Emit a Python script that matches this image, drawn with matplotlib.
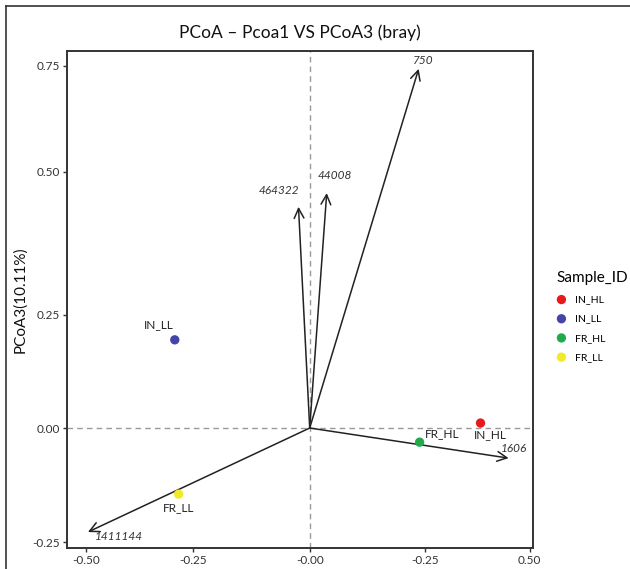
import matplotlib
matplotlib.use("Agg")
import matplotlib.pyplot as plt
import numpy as np

plt.rcParams['font.family'] = ['Lato', 'DejaVu Sans']

samples = ['IN_HL', 'IN_LL', 'FR_HL', 'FR_LL']
pc1 = [0.383, -0.292, 0.239, -0.283]
pc3 = [0.011, 0.195, -0.031, -0.145]
colors = ['#e8191c', '#4444aa', '#22aa4a', '#f0ea2a']

species = ['750', '44008', '464322', '1606', '1411144']
sp_x = [0.237, 0.037, -0.024, 0.45, -0.495]
sp_y = [0.743, 0.463, 0.439, -0.066, -0.228]

xticks = [-0.50, -0.25, 0.00, 0.25, 0.50]
xticklabels = ['-0.50', '-0.25', '-0.00', '-0.25', '0.50']
yticks = [-0.25, 0.00, 0.25, 0.50, 0.75]
yticklabels = ['-0.25', '0.00', '0.25', '0.50', '0.75']

fig = plt.figure(figsize=(6.3, 5.69), dpi=100)
ax = fig.add_axes([0.1063, 0.0369, 0.7397, 0.8735])

# piecewise-linear y scale reproducing the reference's uneven tick spacing
yk = np.array([-1.0, -0.25, 0.0, 0.25, 0.5, 0.75, 1.5])
yp = np.array([-456*0.75, 0, 114, 227, 370, 476, 476 + 424*0.75])
ax.set_yscale('function', functions=(lambda v: np.interp(v, yk, yp),
                                     lambda p: np.interp(p, yp, yk)))
xk = np.array([-1.5, -0.5, -0.25, 0.0, 0.25, 0.5, 1.5])
xp = np.array([-428, 0, 107, 224, 339, 444, 864])
ax.set_xscale('function', functions=(lambda v: np.interp(v, xk, xp),
                                     lambda p: np.interp(p, xp, xk)))

ax.set_xlim(-0.544, 0.508)
ax.set_ylim(-0.263, 0.785)

ax.axhline(0, color='#999999', ls=(0, (4, 3)), lw=1.0, zorder=1)
ax.axvline(0, color='#999999', ls=(0, (4, 3)), lw=1.0, zorder=1)

sp_off = {'750': (3, 6), '44008': (6, 13), '464322': (-14, 11.5),
          '1606': (4, 7), '1411144': (22, -3)}
for name, x, y in zip(species, sp_x, sp_y):
    ax.annotate('', xy=(x, y), xytext=(0, 0),
                arrowprops=dict(arrowstyle='->,head_length=0.7,head_width=0.35',
                                color='#222222', lw=1.1, shrinkA=0, shrinkB=0), zorder=2)
    ax.annotate(name, xy=(x, y), xytext=sp_off[name], textcoords='offset points',
                ha='center', va='center', style='italic', fontsize=8.5, color='#333333')

for s, x, y, c in zip(samples, pc1, pc3, colors):
    ax.scatter([x], [y], s=45, color=c, zorder=3, edgecolors='none', label=s)

pt_off = {'IN_HL': (7, -8.5), 'IN_LL': (-11.5, 11), 'FR_HL': (16.5, 6), 'FR_LL': (0, -9.5)}
for s, x, y in zip(samples, pc1, pc3):
    ax.annotate(s, xy=(x, y), xytext=pt_off[s], textcoords='offset points',
                ha='center', va='center', fontsize=8.5, color='#222222')

ax.set_xticks(xticks)
ax.set_xticklabels(xticklabels)
ax.set_yticks(yticks)
ax.set_yticklabels(yticklabels)
ax.minorticks_off()
ax.tick_params(direction='out', length=3, width=1, colors='#333333', labelsize=8.5,
               labelcolor='#333333', pad=2)
for sp in ax.spines.values():
    sp.set_color('#333333')
    sp.set_linewidth(1.4)

ax.set_ylabel('PCoA3(10.11%)', fontsize=11, color='#111111', labelpad=4)
ax.set_title('PCoA \u2013 Pcoa1 VS PCoA3 (bray)', fontsize=12.5, color='#111111', pad=9)

leg = fig.legend(loc='upper left', bbox_to_anchor=(0.868, 0.54), frameon=False,
                 title='Sample_ID', fontsize=7.5, title_fontsize=11,
                 handletextpad=0.8, labelspacing=0.95, handlelength=1.0,
                 alignment='left')

# outer figure border (left and top edges)
fig.add_artist(plt.Line2D([6/630, 6/630], [0, 1 - 6/569], transform=fig.transFigure,
                          color='#333333', lw=1.2))
fig.add_artist(plt.Line2D([6/630, 1], [1 - 6/569, 1 - 6/569], transform=fig.transFigure,
                          color='#333333', lw=1.2))

fig.savefig('out.png', dpi=100)
